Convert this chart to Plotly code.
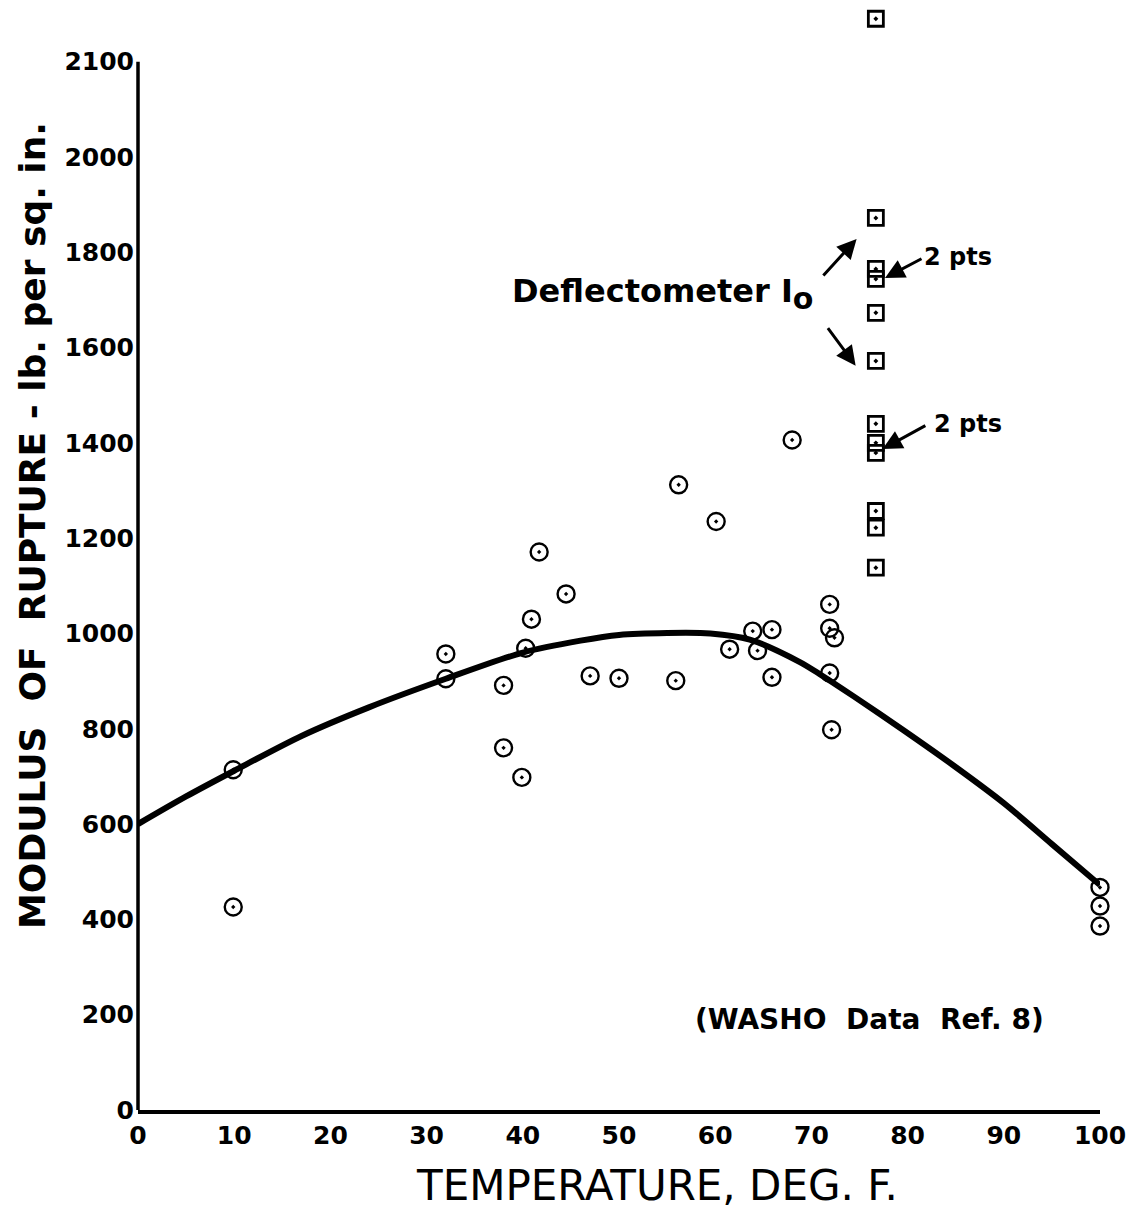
import plotly.graph_objects as go

# WASHO data (circles)
washo_temp = [9.9, 9.9, 32.0, 32.0, 38.0, 38.0, 39.9, 40.3, 40.9, 41.7, 44.5, 47.0, 50.0,
              55.9, 56.2, 60.1, 61.5, 63.9, 64.4, 65.9, 65.9, 68.0, 71.9, 71.9, 72.4,
              71.9, 72.1, 100.0, 100.0, 100.0]
washo_mr = [714, 426, 957, 905, 891, 760, 698, 969, 1030, 1171, 1083, 911, 906,
            901, 1312, 1235, 967, 1005, 964, 1008, 908, 1406, 1061, 1011, 991,
            917, 798, 467, 428, 386]

# Deflectometer I0 data (squares)
defl_temp = [76.7] * 12
defl_mr = [2290, 1872, 1765, 1744, 1673, 1572, 1440, 1400, 1379, 1257, 1222, 1138]

# Fitted curve
curve_temp = [0, 5, 10, 17, 24, 32, 40, 46, 50, 55, 59.5, 63.6, 68.8, 71, 74.4, 79.5, 84.7, 90, 95, 100]
curve_mr = [600, 658, 712, 785, 845, 905, 960, 985, 997, 1001, 1000, 987, 940, 913, 868, 798, 724, 644, 558, 472]

x_tick_vals = [0, 10, 20, 30, 40, 50, 60, 70, 80, 90, 100]
x_tick_text = ["0", "10", "20", "30", "40", "50", "60", "70", "80", "90", "100"]
y_tick_vals = [0, 200, 400, 600, 800, 1000, 1200, 1400, 1600, 1800, 2000, 2200]
y_tick_text = ["0", "200", "400", "600", "800", "1000", "1200", "1400", "1600", "1800", "2000", "2100"]
y_axis_top = 2200

FONT = "DejaVu Sans"

fig = go.Figure()
fig.add_trace(go.Scatter(x=curve_temp, y=curve_mr, mode="lines",
                         line=dict(color="black", width=6, shape="spline", smoothing=0.8),
                         cliponaxis=False, showlegend=False, hoverinfo="skip"))
fig.add_trace(go.Scatter(x=washo_temp, y=washo_mr, mode="markers",
                         marker=dict(symbol="circle-open-dot", size=17, color="black",
                                     line=dict(width=2.4, color="black")),
                         cliponaxis=False, showlegend=False))
fig.add_trace(go.Scatter(x=defl_temp, y=defl_mr, mode="markers",
                         marker=dict(symbol="square-open-dot", size=15, color="black",
                                     line=dict(width=2.8, color="black")),
                         cliponaxis=False, showlegend=False))

# y axis line (stops at top labelled tick)
fig.add_shape(type="line", xref="paper", yref="y", x0=0, x1=0, y0=0, y1=y_axis_top,
              line=dict(color="black", width=3.5))

arrow_kw = dict(xref="x", yref="y", axref="x", ayref="y", text="", showarrow=True,
                arrowhead=2, arrowsize=1.3, arrowwidth=3, arrowcolor="black")
fig.add_annotation(x=74.7, y=1828, ax=71.1, ay=1748, **arrow_kw)
fig.add_annotation(x=74.6, y=1562, ax=71.6, ay=1644, **arrow_kw)
fig.add_annotation(x=77.65, y=1746, ax=81.6, ay=1788, **arrow_kw)
fig.add_annotation(x=77.4, y=1387, ax=82.0, ay=1438, **arrow_kw)

fig.add_annotation(x=38.7, y=1712, xref="x", yref="y", xanchor="left", yanchor="middle",
                   text="<b>Deflectometer I<sub><span style='font-size:30px'>o</span></sub></b>",
                   showarrow=False, font=dict(family=FONT, size=32, color="black"))
fig.add_annotation(x=81.5, y=1790, xref="x", yref="y", xanchor="left", yanchor="middle",
                   text="<b>2 pts</b>", showarrow=False,
                   font=dict(family=FONT, size=24, color="black"))
fig.add_annotation(x=82.5, y=1440, xref="x", yref="y", xanchor="left", yanchor="middle",
                   text="<b>2 pts</b>", showarrow=False,
                   font=dict(family=FONT, size=24, color="black"))
fig.add_annotation(x=76.0, y=189, xref="x", yref="y", xanchor="center", yanchor="middle",
                   text="<b>(WASHO&nbsp; Data&nbsp; Ref. 8)</b>", showarrow=False,
                   font=dict(family=FONT, size=28, color="black"))

fig.add_annotation(x=-0.109, y=0.533, xref="paper", yref="paper", textangle=-90,
                   text="<b>MODULUS&nbsp; OF&nbsp; RUPTURE - lb. per sq. in.</b>",
                   showarrow=False, xanchor="center", yanchor="middle",
                   font=dict(family=FONT, size=36, color="black"))
fig.add_annotation(x=0.54, y=-0.069, xref="paper", yref="paper",
                   text="TEMPERATURE, DEG. F.", showarrow=False,
                   xanchor="center", yanchor="middle",
                   font=dict(family=FONT, size=42, color="black"))

fig.update_xaxes(range=[0, 100], tickvals=x_tick_vals, ticktext=x_tick_text,
                 showline=True, linewidth=3.5, linecolor="black", showgrid=False,
                 zeroline=False, ticks="", tickfont=dict(family=FONT, size=25, color="black",
                                                         weight="bold"),
                 ticklabelstandoff=0)
fig.update_yaxes(range=[0, 2300], tickvals=y_tick_vals, ticktext=y_tick_text,
                 showline=False, showgrid=False,
                 zeroline=False, ticks="", tickfont=dict(family=FONT, size=25, color="black",
                                                         weight="bold"),
                 ticklabelstandoff=3)
fig.update_layout(width=1137, height=1217, plot_bgcolor="white", paper_bgcolor="white",
                  margin=dict(l=138, r=37, t=14, b=107), showlegend=False)

fig.write_html("out.html")
